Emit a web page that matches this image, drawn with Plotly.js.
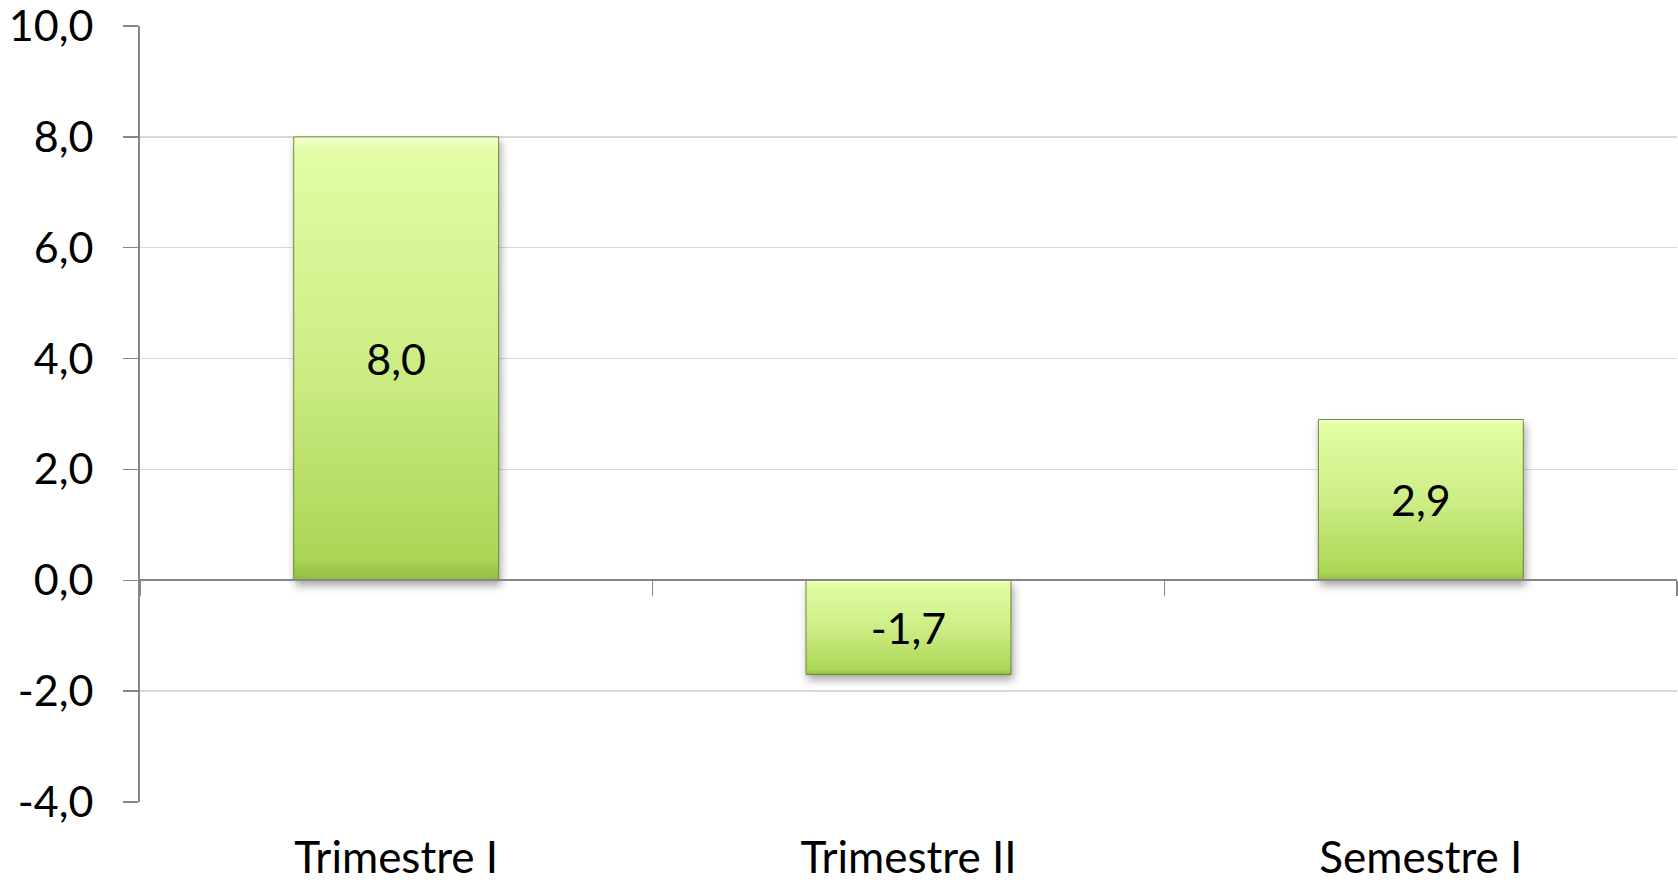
<!DOCTYPE html>
<html>
<head>
<meta charset="utf-8">
<script src="https://cdn.plot.ly/plotly-3.0.1.min.js"></script>
<style>
  html, body { margin: 0; padding: 0; background: #ffffff; }
  #chart { width: 1678px; height: 885px; }
</style>
</head>
<body>
<div id="chart"></div>
<script>
const categories = ['Trimestre I', 'Trimestre II', 'Semestre I'];
const values = [8.0, -1.7, 2.9];
const yTickVals = [-4, -2, 0, 2, 4, 6, 8, 10];
const yTickLabels = ['-4,0', '-2,0', '0,0', '2,0', '4,0', '6,0', '8,0', '10,0'];
const yRange = [-4, 10];

const FONT = 'Lato, "Open Sans", sans-serif';

const trace = {
  type: 'bar',
  x: categories,
  y: values,
  marker: { color: '#c4e77a', line: { color: 'rgba(95,125,35,0.85)', width: 1 } },
  texttemplate: '%{y:.1f}',
  textposition: 'inside',
  insidetextanchor: 'middle',
  textangle: 0,
  constraintext: 'none',
  textfont: { family: FONT, size: 43, color: '#000000' },
  hoverinfo: 'none'
};

const zeroPos = (0 - yRange[0]) / (yRange[1] - yRange[0]);

const layout = {
  width: 1678,
  height: 885,
  margin: { l: 140, r: 1, t: 26, b: 83 },
  paper_bgcolor: '#ffffff',
  plot_bgcolor: '#ffffff',
  separators: ', ',
  showlegend: false,
  bargap: 0.6,
  font: { family: FONT, size: 43, color: '#000000' },
  xaxis: {
    type: 'category',
    categoryorder: 'array',
    categoryarray: categories,
    range: [-0.5, 2.5],
    anchor: 'free',
    position: zeroPos,
    showline: true,
    linecolor: '#868686',
    linewidth: 2,
    showgrid: false,
    zeroline: false,
    ticks: 'outside',
    tickson: 'boundaries',
    ticklen: 15,
    tickwidth: 1.5,
    tickcolor: '#868686',
    ticklabelstandoff: 239,
    ticklabeloverflow: 'allow',
    tickfont: { family: FONT, size: 44, color: '#000000' },
    fixedrange: true
  },
  yaxis: {
    range: yRange,
    tickvals: yTickVals,
    ticktext: yTickLabels,
    showline: true,
    linecolor: '#868686',
    linewidth: 2,
    showgrid: true,
    gridcolor: '#d9d9d9',
    gridwidth: 1.5,
    zeroline: false,
    ticks: 'outside',
    ticklen: 15,
    tickwidth: 1.5,
    tickcolor: '#868686',
    ticklabelstandoff: 21,
    ticklabeloverflow: 'allow',
    tickfont: { family: FONT, size: 43, color: '#000000' },
    fixedrange: true
  }
};

Plotly.newPlot('chart', [trace], layout, { staticPlot: true, displayModeBar: false }).then(function (gd) {
  const svg = gd.querySelector('svg.main-svg');
  const ns = 'http://www.w3.org/2000/svg';
  let defs = svg.querySelector('defs');
  if (!defs) { defs = document.createElementNS(ns, 'defs'); svg.insertBefore(defs, svg.firstChild); }
  const grad = document.createElementNS(ns, 'linearGradient');
  grad.setAttribute('id', 'barGrad');
  grad.setAttribute('x1', '0'); grad.setAttribute('y1', '0');
  grad.setAttribute('x2', '0'); grad.setAttribute('y2', '1');
  [['0', '#f4ffd0'], ['0.035', '#e2fda4'], ['0.5', '#cdee86'], ['0.95', '#acd656'], ['1', '#93bb42']].forEach(function (s) {
    const st = document.createElementNS(ns, 'stop');
    st.setAttribute('offset', s[0]);
    st.setAttribute('stop-color', s[1]);
    grad.appendChild(st);
  });
  defs.appendChild(grad);
  gd.querySelectorAll('.barlayer .point path').forEach(function (p) {
    p.style.fill = 'url(#barGrad)';
    p.style.filter = 'drop-shadow(2px 5px 4px rgba(0,0,0,0.35))';
  });
});
</script>
</body>
</html>
